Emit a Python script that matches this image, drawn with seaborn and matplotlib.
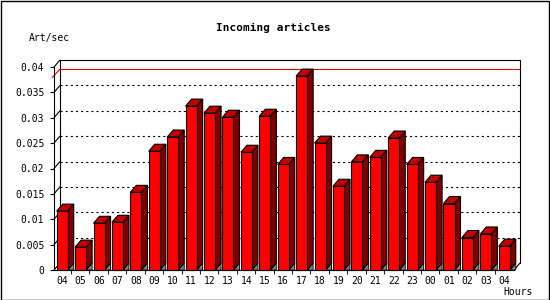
import numpy as np
import matplotlib
matplotlib.use("Agg")
import matplotlib.pyplot as plt
import seaborn as sns
from matplotlib.patches import Polygon, Rectangle

hours = ["04", "05", "06", "07", "08", "09", "10", "11", "12", "13", "14", "15",
         "16", "17", "18", "19", "20", "21", "22", "23", "00", "01", "02", "03", "04"]
values = [0.0116, 0.0045, 0.0092, 0.0094, 0.0153, 0.0234, 0.0262, 0.0323, 0.0309,
          0.0301, 0.0232, 0.0303, 0.0208, 0.0382, 0.0250, 0.0165, 0.0213, 0.0222,
          0.0260, 0.0208, 0.0173, 0.0131, 0.0064, 0.0071, 0.0047]
yticks = [0, 0.005, 0.01, 0.015, 0.02, 0.025, 0.03, 0.035, 0.04]
ytick_labels = ["0", "0.005", "0.01", "0.015", "0.02", "0.025", "0.03", "0.035", "0.04"]
title = "Incoming articles"
ylabel = "Art/sec"
xlabel = "Hours"

sns.set_style("white")
plt.rcParams["font.family"] = ["DejaVu Sans Mono", "DejaVu Sans"]
plt.rcParams["lines.scale_dashes"] = False
plt.rcParams["text.color"] = "black"

W, H = 550, 300
fig = plt.figure(figsize=(W / 100, H / 100), dpi=100)
fig.patch.set_facecolor("white")
# axes = front pane
ax = fig.add_axes([54 / W, 30 / H, 460 / W, 203 / H])
ax.set_facecolor("none")

x = np.arange(len(values))
sns.barplot(x=x, y=values, color="#ff0000", saturation=1, width=0.6,
            edgecolor="black", linewidth=0.8, ax=ax, zorder=5)

xmin, xmax = -0.445, 24.53
ymin, ymax = 0, 0.04
ax.set_xlim(xmin, xmax)
ax.set_ylim(ymin, ymax)

# depth offset in data units (6 px right, 7 px up)
dxd = 6 * (xmax - xmin) / 460
dyd = 7 * (ymax - ymin) / 203

for s in ["top", "right"]:
    ax.spines[s].set_visible(False)
for s in ["left", "bottom"]:
    ax.spines[s].set_color("black")
    ax.spines[s].set_linewidth(0.8)

ax.set_xticks(x, labels=hours)
ax.set_yticks(yticks, labels=ytick_labels)
ax.tick_params(axis="y", length=3, width=0.8, direction="out", pad=4,
               labelsize=7, colors="black", left=True)
ax.tick_params(axis="x", length=0, pad=4, labelsize=7, colors="black")
ax.set_xticks(x[:-1] + 0.48, minor=True)
ax.tick_params(axis="x", which="minor", length=3, width=0.8, direction="out",
               bottom=True)
ax.set_xlabel("")
ax.set_ylabel("")

lkw = dict(color="black", lw=0.8, clip_on=False)
# back pane
ax.plot([xmin + dxd, xmin + dxd, xmax + dxd, xmax + dxd],
        [dyd, ymax + dyd, ymax + dyd, dyd], zorder=1, **lkw)
ax.plot([xmin, xmin + dxd], [ymax, ymax + dyd], zorder=1, **lkw)
ax.plot([xmax, xmax + dxd], [0, dyd], zorder=1, **lkw)
# gridlines on back pane + diagonals
for v in yticks[:-1]:
    ax.plot([xmin, xmin + dxd], [v, v + dyd], zorder=1, **lkw)
for v in yticks[1:-1]:
    ax.plot([xmin + dxd, xmax + dxd], [v + dyd, v + dyd], color="black", lw=0.8,
            dashes=(1.5, 2.2), zorder=1, clip_on=False)
# max line
vmax = max(values)
ax.plot([xmin + dxd, xmax + dxd], [vmax + dyd, vmax + dyd], color="#e00000",
        lw=0.8, zorder=2, clip_on=False)
ax.plot([xmin - 0.1, xmin + dxd], [vmax - 0.0003, vmax + dyd], color="#e00000",
        lw=0.8, zorder=2, clip_on=False)

# 3D faces for each bar
for p in list(ax.patches):
    x0, w, h = p.get_x(), p.get_width(), p.get_height()
    x1 = x0 + w
    shadow = Polygon([(x1, 0), (x1 + dxd, dyd), (x1 + dxd, 0)], closed=True,
                     facecolor="#808080", edgecolor="black", lw=0.6, zorder=4,
                     clip_on=False)
    side = Polygon([(x1, 0), (x1 + dxd, dyd), (x1 + dxd, h + dyd), (x1, h)],
                   closed=True, facecolor="#800000", edgecolor="black", lw=0.8,
                   zorder=4.5, clip_on=False)
    top = Polygon([(x0, h), (x1, h), (x1 + dxd, h + dyd), (x0 + dxd, h + dyd)],
                  closed=True, facecolor="#c00000", edgecolor="black", lw=0.8,
                  zorder=4.5, clip_on=False)
    for poly in (shadow, side, top):
        ax.add_patch(poly)
    p.set_clip_on(False)

# texts
fig.text(273.5 / W, 1 - 27.5 / H, title, ha="center", va="center",
         fontsize=8, fontweight="bold", color="black")
fig.text(29 / W, 1 - 38 / H, ylabel, ha="left", va="center", fontsize=7,
         color="black")
fig.text(533 / W, 1 - 292 / H, xlabel, ha="right", va="center", fontsize=7,
         color="black")

# outer frame
fig.patches.append(Rectangle((0.5 / W, 0.5 / H), 1 - 1.2 / W, 1 - 1.2 / H,
                             transform=fig.transFigure, fill=False,
                             edgecolor="black", lw=1))

fig.savefig("out.png", dpi=100, facecolor="white")
